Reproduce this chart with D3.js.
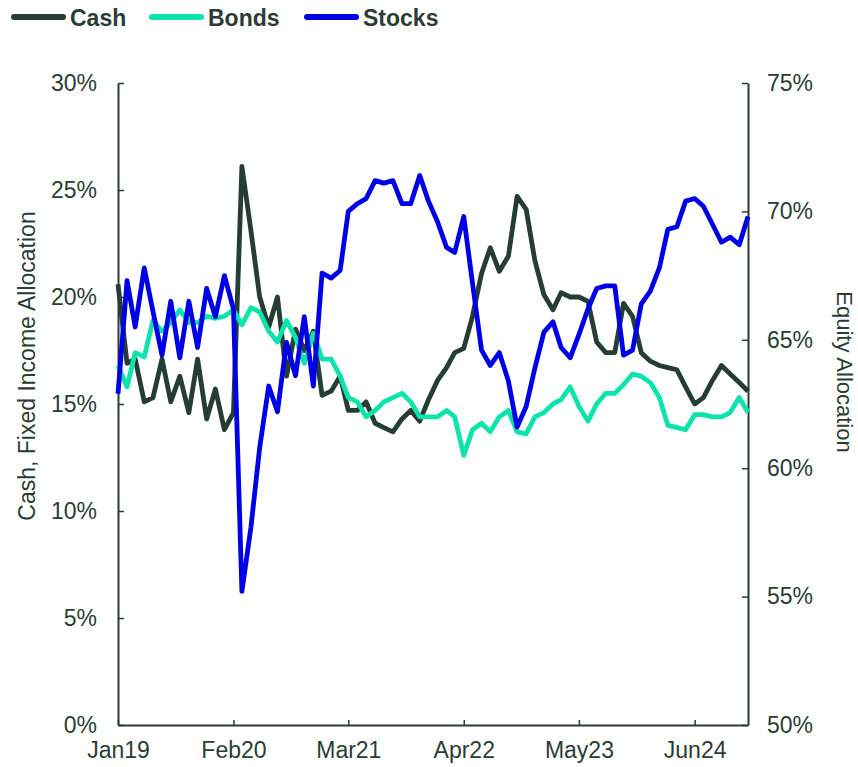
<!DOCTYPE html>
<html>
<head>
<meta charset="utf-8">
<script src="https://d3js.org/d3.v7.min.js"></script>
<style>
  body { margin: 0; background: #fff; }
  svg text { font-family: "Liberation Sans", Arial, sans-serif; fill: #2a3d35; }
</style>
</head>
<body>
<svg width="858" height="767"></svg>
<script>
// monthly, Jan 2019 .. Dec 2024
var months = d3.timeMonth.range(new Date(2019, 0, 1), new Date(2025, 0, 1));

var cash = [20.6,16.9,17.1,15.1,15.3,17.1,15.1,16.3,14.6,17.1,14.3,15.7,13.8,14.6,
  26.1,23.1,20.0,18.6,20.0,16.3,18.5,17.5,18.4,15.4,15.6,16.3,14.7,14.7,15.1,14.1,
  13.9,13.7,14.3,14.7,14.2,15.2,16.1,16.7,17.4,17.6,19.1,21.1,22.3,21.2,21.9,24.7,
  24.1,21.7,20.1,19.4,20.2,20.0,20.0,19.8,17.9,17.4,17.4,19.7,19.1,17.4,17.0,16.8,
  16.7,16.6,15.8,15.0,15.3,16.1,16.8,16.4,16.0,15.6];

var bonds = [16.8,15.8,17.4,17.2,18.9,18.4,18.8,19.4,18.8,18.8,19.1,19.0,19.1,19.4,
  18.7,19.5,19.3,18.4,17.9,18.9,18.1,16.9,18.3,17.1,17.1,16.3,15.3,15.1,14.4,14.7,
  15.1,15.3,15.5,15.1,14.4,14.4,14.4,14.7,14.4,12.6,13.8,14.1,13.7,14.4,14.7,13.7,
  13.6,14.4,14.6,15.0,15.2,15.8,14.9,14.2,15.0,15.5,15.5,15.9,16.4,16.3,16.0,15.3,
  14.0,13.9,13.8,14.5,14.5,14.4,14.4,14.6,15.3,14.6];

var stocks = [62.9,67.3,65.5,67.8,66.1,64.4,66.5,64.3,66.5,64.7,67.0,65.9,67.5,66.2,
  55.2,57.7,60.8,63.2,62.2,64.9,63.6,65.9,63.2,67.6,67.4,67.7,70.0,70.3,70.5,71.2,
  71.1,71.2,70.3,70.3,71.4,70.4,69.6,68.6,68.4,69.8,67.2,64.6,64.0,64.5,63.4,61.6,
  62.4,63.9,65.3,65.7,64.7,64.3,65.2,66.2,67.0,67.1,67.1,64.4,64.6,66.4,66.9,67.8,
  69.3,69.4,70.4,70.5,70.2,69.5,68.8,69.0,68.7,69.8];

var xTickLabels = ["Jan19", "Feb20", "Mar21", "Apr22", "May23", "Jun24"];
var leftTicks = [0, 5, 10, 15, 20, 25, 30];
var rightTicks = [50, 55, 60, 65, 70, 75];

var seriesNames = ["Cash", "Bonds", "Stocks"];
var seriesColors = ["#263d33", "#0de3ad", "#0000e6"];

var svg = d3.select("svg"),
    plotLeft = 118, plotRight = 748, plotTop = 83, plotBottom = 725,
    axisColor = "#2a3d35";

var x = d3.scaleTime()
    .domain([months[0], months[months.length - 1]])
    .range([plotLeft, plotRight]);
var yL = d3.scaleLinear().domain([0, 30]).range([plotBottom, plotTop]);
var yR = d3.scaleLinear().domain([50, 75]).range([plotBottom, plotTop]);

var xTicks = xTickLabels.map(function(d, i) { return months[i * 13]; });

// axes
var gx = svg.append("g")
    .attr("transform", "translate(0," + plotBottom + ")")
    .call(d3.axisBottom(x).tickValues(xTicks).tickSizeInner(-5).tickSizeOuter(0)
      .tickPadding(13).tickFormat(function(d, i) { return xTickLabels[i]; }));

var gl = svg.append("g")
    .attr("transform", "translate(" + plotLeft + ",0)")
    .call(d3.axisLeft(yL).tickValues(leftTicks).tickSizeInner(-6).tickSizeOuter(0)
      .tickPadding(21).tickFormat(function(d) { return d + "%"; }));

var gr = svg.append("g")
    .attr("transform", "translate(" + plotRight + ",0)")
    .call(d3.axisRight(yR).tickValues(rightTicks).tickSizeInner(-6).tickSizeOuter(0)
      .tickPadding(19).tickFormat(function(d) { return d + "%"; }));

[gx, gl, gr].forEach(function(g) {
  g.select(".domain").attr("stroke", axisColor).attr("stroke-width", 2);
  g.selectAll(".tick line").attr("stroke", axisColor).attr("stroke-width", 1.5);
  g.selectAll(".tick text").attr("font-size", 23).attr("fill", axisColor);
});
gx.selectAll(".tick text").attr("dy", "0.85em");

// axis titles
svg.append("text")
    .attr("transform", "translate(35,366)rotate(-90)")
    .attr("text-anchor", "middle")
    .attr("font-size", 23)
    .text("Cash, Fixed Income Allocation");

svg.append("text")
    .attr("transform", "translate(837,372)rotate(90)")
    .attr("text-anchor", "middle")
    .attr("font-size", 22)
    .text("Equity Allocation");

// lines
var lineL = d3.line()
    .x(function(d, i) { return x(months[i]); })
    .y(function(d) { return yL(d); });
var lineR = d3.line()
    .x(function(d, i) { return x(months[i]); })
    .y(function(d) { return yR(d); });

[[cash, lineL], [bonds, lineL], [stocks, lineR]].forEach(function(s, k) {
  svg.append("path")
      .datum(s[0])
      .attr("fill", "none")
      .attr("stroke", seriesColors[k])
      .attr("stroke-width", 4.8)
      .attr("stroke-linejoin", "round")
      .attr("d", s[1]);
});

// legend
var legendX = [12, 150, 305];
var legend = svg.append("g")
  .selectAll("g")
  .data(seriesNames)
  .enter().append("g")
    .attr("transform", function(d, i) { return "translate(" + legendX[i] + ",17)"; });

legend.append("line")
    .attr("x1", 2).attr("x2", 51)
    .attr("stroke", function(d, i) { return seriesColors[i]; })
    .attr("stroke-width", 6)
    .attr("stroke-linecap", "round");

legend.append("text")
    .attr("x", 58)
    .attr("y", 9)
    .attr("font-size", 23)
    .attr("font-weight", "bold")
    .text(function(d) { return d; });
</script>
</body>
</html>
